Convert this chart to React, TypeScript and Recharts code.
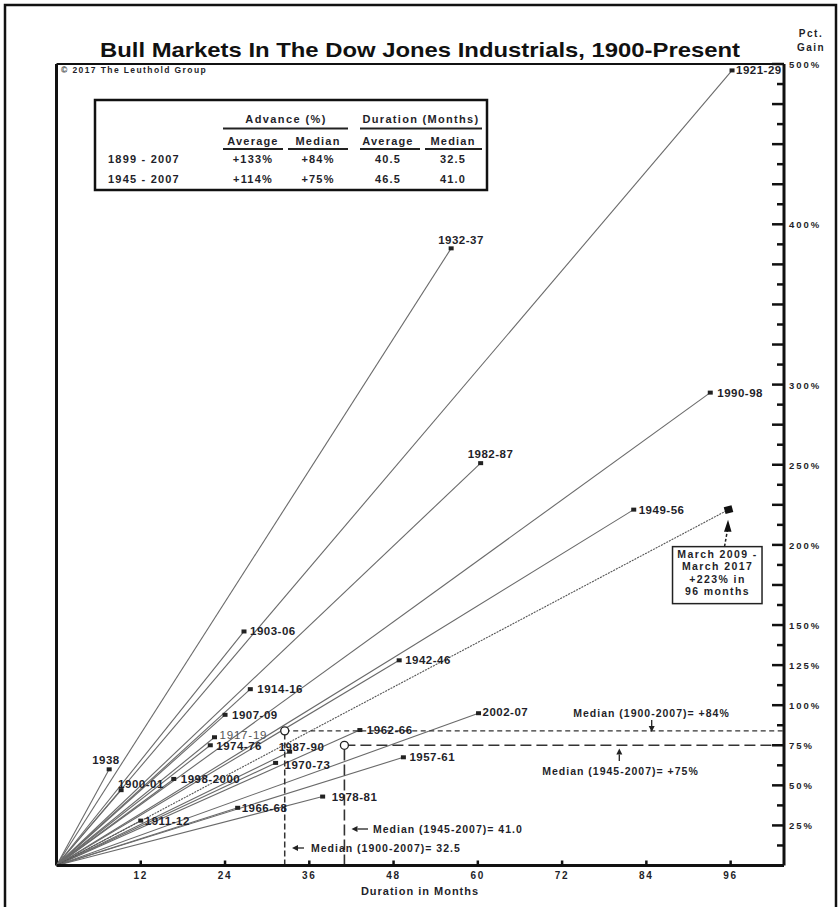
import { ScatterChart, Scatter, XAxis, YAxis, ReferenceLine, ReferenceDot } from 'recharts'

const FONT = '"Liberation Sans", Arial, Helvetica, sans-serif'
const INK = '#1f1f2a'

// bull market periods, duration (months) and gain (%)
const periods = [
  '1921-29', '1932-37', '1990-98', '1982-87', '1949-56', '1903-06', '1942-46', '1914-16',
  '1907-09', '2002-07', '1917-19', '1962-66', '1974-76', '1987-90', '1957-61', '1970-73',
  '1938', '1998-2000', '1900-01', '1978-81', '1966-68', '1911-12',
]
const months = [96.2, 56.2, 93.1, 60.4, 82.2, 26.7, 48.8, 27.6, 24.0, 60.1, 22.5, 43.2, 21.9, 33.2, 49.4, 31.2, 7.5, 16.7, 9.2, 37.9, 25.8, 12.0]
const gains = [496, 385, 295, 251, 222, 146, 128, 110, 94, 95, 80, 84.5, 75, 71, 67.5, 64, 60, 54, 47, 43, 36, 28]

const current = { name: 'current', x: 95.7, y: 222 }
const currentText = ['March 2009 -', 'March 2017', '+223% in', '96 months']

const medianAll = { months: 32.5, gain: 84 }
const median45 = { months: 41, gain: 75 }

const tableRows = ['1899 - 2007', '1945 - 2007']
const advAvg = ['+133%', '+114%']
const advMed = ['+84%', '+75%']
const durAvg = ['40.5', '46.5']
const durMed = ['32.5', '41.0']

const xTicks = [12, 24, 36, 48, 60, 72, 84, 96]
const yLabeled = [25, 50, 75, 100, 125, 150, 200, 250, 300, 400, 500]
const yTicks = Array.from({ length: 40 }, (_, i) => (i + 1) * 12.5)
const X_MAX = 103.6

// label offsets relative to marker (text start, vertical shift)
const labelPos: Record<string, [number, number]> = {
  '1921-29': [4, 0], '1932-37': [-13, -8], '1990-98': [7, 0], '1982-87': [-13, -9],
  '1949-56': [5, 0], '1903-06': [6, 0], '1942-46': [6, 0], '1914-16': [7, 0],
  '1907-09': [7, 0], '2002-07': [4, -1], '1917-19': [5, -2], '1962-66': [7, 0],
  '1974-76': [6, 1], '1987-90': [-11, -5], '1957-61': [6, 0], '1970-73': [9, 2],
  '1938': [-17, -9], '1998-2000': [7, 0], '1900-01': [-3, -6], '1978-81': [9, 0],
  '1966-68': [4, 0], '1911-12': [4, 0],
}

const points = periods.map((p, i) => ({ name: p, x: months[i], y: gains[i] }))

function Marker(props: any) {
  const { cx, cy, payload } = props
  const [dx, dy] = labelPos[payload.name] ?? [6, 0]
  const faint = payload.name === '1917-19'
  return (
    <g>
      <rect x={cx - 2.5} y={cy - 2} width={5} height={4} fill="#222" />
      <text
        x={cx + dx}
        y={cy + dy + 4}
        fontFamily={FONT}
        fontSize={11.5}
        fontWeight={faint ? 400 : 700}
        letterSpacing={faint ? 0.8 : 0.5}
        fill={faint ? '#555' : INK}
      >
        {payload.name}
      </text>
    </g>
  )
}

function CurrentMarker(props: any) {
  const { cx, cy } = props
  const bx = cx - 56
  const by = cy + 37
  return (
    <g>
      <rect x={cx - 4} y={cy - 3.5} width={8} height={7} fill="#111" transform={`rotate(-15 ${cx} ${cy})`} />
      <line x1={cx - 4} y1={by} x2={cx - 1} y2={cy + 20} stroke="#222" strokeWidth={1.5} strokeDasharray="3 2" />
      <polygon points={`${cx - 0.5},${cy + 10} ${cx - 4.5},${cy + 22} ${cx + 3},${cy + 22}`} fill="#111" />
      <rect x={bx} y={by} width={89.5} height={57} fill="#fff" stroke="#222" strokeWidth={1.5} />
      {currentText.map((t, i) => (
        <text
          key={t}
          x={cx - 11}
          y={by + 11.5 + i * 12.2}
          textAnchor="middle"
          fontFamily={FONT}
          fontSize={10.5}
          fontWeight={700}
          letterSpacing={1.4}
          fill={INK}
        >
          {t}
        </text>
      ))}
    </g>
  )
}

function YTick(props: any) {
  const { x, y, payload } = props
  const v = payload.value
  const len = v % 25 === 0 ? 12 : 7
  return (
    <g>
      <line x1={x - len} x2={x} y1={y} y2={y} stroke="#111" strokeWidth={2.5} />
      {yLabeled.includes(v) && (
        <text x={x + 5} y={y + 4} fontFamily={FONT} fontSize={9.5} fontWeight={700} letterSpacing={2} fill={INK}>
          {v}%
        </text>
      )}
    </g>
  )
}

function XTick(props: any) {
  const { x, y, payload } = props
  return (
    <g>
      <line x1={x} x2={x} y1={y - 5} y2={y} stroke="#111" strokeWidth={2.5} />
      <text x={x} y={y + 13} textAnchor="middle" fontFamily={FONT} fontSize={10} fontWeight={700} letterSpacing={1.8} fill={INK}>
        {payload.value}
      </text>
    </g>
  )
}

function Arrow({ x1, y1, x2, y2 }: { x1: number; y1: number; x2: number; y2: number }) {
  const ang = Math.atan2(y2 - y1, x2 - x1)
  const hl = 6
  const hw = 3
  const bx = x2 - hl * Math.cos(ang)
  const by = y2 - hl * Math.sin(ang)
  const px = -Math.sin(ang) * hw
  const py = Math.cos(ang) * hw
  return (
    <g>
      <line x1={x1} y1={y1} x2={bx} y2={by} stroke="#222" strokeWidth={1.3} />
      <polygon points={`${x2},${y2} ${bx + px},${by + py} ${bx - px},${by - py}`} fill="#222" />
    </g>
  )
}

const txt = { fontFamily: FONT, fontWeight: 700, fill: INK } as const

export default function App() {
  return (
    <div style={{ position: 'absolute', left: 0, top: 0, width: 840, height: 907, background: '#fff' }}>
      <ScatterChart width={840} height={907} margin={{ top: 64, right: 6, bottom: 11.5, left: 56.5 }}>
        <XAxis
          type="number"
          dataKey="x"
          domain={[0, X_MAX]}
          ticks={xTicks}
          interval={0}
          tickSize={0}
          tickMargin={0}
          tick={<XTick />}
          axisLine={{ stroke: '#111', strokeWidth: 3 }}
          height={30}
          allowDataOverflow
        />
        <YAxis
          type="number"
          dataKey="y"
          orientation="right"
          domain={[0, 500]}
          ticks={yTicks}
          interval={0}
          tickSize={0}
          tickMargin={0}
          tick={<YTick />}
          axisLine={{ stroke: '#111', strokeWidth: 3 }}
          width={50}
          allowDataOverflow
        />
        <ReferenceLine x={0} stroke="#111" strokeWidth={3} />
        <ReferenceLine y={500} stroke="#111" strokeWidth={2} />
        {points.map((p) => (
          <ReferenceLine
            key={p.name}
            segment={[{ x: 0, y: 0 }, { x: p.x, y: p.y }]}
            stroke="#6a6a6a"
            strokeWidth={1.1}
            ifOverflow="visible"
          />
        ))}
        <ReferenceLine segment={[{ x: 0, y: 0 }, { x: current.x, y: current.y }]} stroke="#555" strokeWidth={1.1} strokeDasharray="2 1" ifOverflow="visible" />

        <ReferenceLine segment={[{ x: medianAll.months, y: medianAll.gain }, { x: X_MAX, y: medianAll.gain }]} stroke="#333" strokeWidth={1.3} strokeDasharray="5 3.5" />
        <ReferenceLine segment={[{ x: medianAll.months, y: 0 }, { x: medianAll.months, y: medianAll.gain }]} stroke="#333" strokeWidth={1.5} strokeDasharray="6 3" />
        <ReferenceLine segment={[{ x: median45.months, y: median45.gain }, { x: X_MAX, y: median45.gain }]} stroke="#333" strokeWidth={1.6} strokeDasharray="11 5" />
        <ReferenceLine segment={[{ x: median45.months, y: 0 }, { x: median45.months, y: median45.gain }]} stroke="#333" strokeWidth={1.6} strokeDasharray="11 4" />
        <ReferenceDot x={medianAll.months} y={medianAll.gain} r={4} fill="#fff" stroke="#222" strokeWidth={1.3} />
        <ReferenceDot x={median45.months} y={median45.gain} r={4} fill="#fff" stroke="#222" strokeWidth={1.3} />

        <Scatter data={points} shape={<Marker />} isAnimationActive={false} />
        <Scatter data={[current]} shape={<CurrentMarker />} isAnimationActive={false} />
      </ScatterChart>

      <svg width={840} height={907} style={{ position: 'absolute', left: 0, top: 0, pointerEvents: 'none' }}>
        <rect x={5} y={5} width={831} height={920} fill="none" stroke="#111" strokeWidth={2.5} />
        <text x={420} y={57} textAnchor="middle" textLength={640} lengthAdjust="spacingAndGlyphs" fontFamily={FONT} fontSize={21} fontWeight={700} fill="#111">
          Bull Markets In The Dow Jones Industrials, 1900-Present
        </text>
        <text x={811} y={37} textAnchor="middle" {...txt} fontSize={10} letterSpacing={1.5}>Pct.</text>
        <text x={811} y={51} textAnchor="middle" {...txt} fontSize={10} letterSpacing={1.5}>Gain</text>
        <text x={61} y={73} {...txt} fontSize={8.5} letterSpacing={1.4}>© 2017 The Leuthold Group</text>
        <text x={420} y={895} textAnchor="middle" {...txt} fontSize={11} letterSpacing={1}>Duration in Months</text>

        {/* summary table */}
        <rect x={95} y={100} width={392} height={90} fill="#fff" stroke="#111" strokeWidth={2.5} />
        <text x={286} y={123} textAnchor="middle" {...txt} fontSize={11} letterSpacing={1.4}>Advance (%)</text>
        <text x={421} y={123} textAnchor="middle" {...txt} fontSize={11} letterSpacing={1.3}>Duration (Months)</text>
        <line x1={223} x2={348} y1={128.5} y2={128.5} stroke="#222" strokeWidth={2} />
        <line x1={360} x2={482} y1={128.5} y2={128.5} stroke="#222" strokeWidth={2} />
        {[
          ['Average', 253, 223, 283],
          ['Median', 318, 288, 348],
          ['Average', 388, 360, 420],
          ['Median', 453, 425, 482],
        ].map(([t, cx, a, b], i) => (
          <g key={i}>
            <text x={cx as number} y={145} textAnchor="middle" {...txt} fontSize={11} letterSpacing={1.2}>{t}</text>
            <line x1={a as number} x2={b as number} y1={149} y2={149} stroke="#222" strokeWidth={2} />
          </g>
        ))}
        {tableRows.map((r, i) => {
          const y = 163 + i * 20
          return (
            <g key={r}>
              <text x={108} y={y} {...txt} fontSize={11} letterSpacing={1.2}>{r}</text>
              <text x={253} y={y} textAnchor="middle" {...txt} fontSize={11} letterSpacing={1.2}>{advAvg[i]}</text>
              <text x={318} y={y} textAnchor="middle" {...txt} fontSize={11} letterSpacing={1.2}>{advMed[i]}</text>
              <text x={388} y={y} textAnchor="middle" {...txt} fontSize={11} letterSpacing={1.2}>{durAvg[i]}</text>
              <text x={453} y={y} textAnchor="middle" {...txt} fontSize={11} letterSpacing={1.2}>{durMed[i]}</text>
            </g>
          )
        })}

        {/* median annotations */}
        <text x={651.5} y={717} textAnchor="middle" {...txt} fontSize={10.5} letterSpacing={1}>Median (1900-2007)= +84%</text>
        <Arrow x1={651.7} y1={720} x2={651.7} y2={732} />
        <text x={620.5} y={774.5} textAnchor="middle" {...txt} fontSize={10.5} letterSpacing={1}>Median (1945-2007)= +75%</text>
        <Arrow x1={619.3} y1={761} x2={619.3} y2={748.5} />
        <text x={373} y={833} {...txt} fontSize={10.5} letterSpacing={1}>Median (1945-2007)= 41.0</text>
        <Arrow x1={368} y1={829} x2={351.5} y2={829} />
        <text x={311} y={852} {...txt} fontSize={10.5} letterSpacing={1}>Median (1900-2007)= 32.5</text>
        <Arrow x1={304} y1={848} x2={292} y2={848} />
      </svg>
    </div>
  )
}
